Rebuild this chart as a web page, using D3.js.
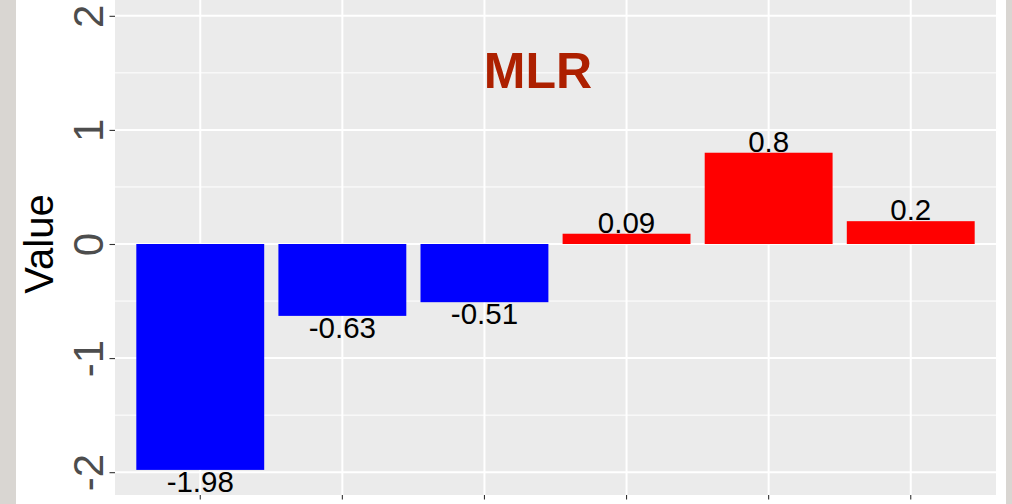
<!DOCTYPE html>
<html>
<head>
<meta charset="utf-8">
<script src="https://cdn.jsdelivr.net/npm/d3@7"></script>
<style>
  html, body { margin: 0; padding: 0; background: #ffffff; }
  svg { display: block; font-family: "Liberation Sans", Arial, sans-serif; }
</style>
</head>
<body>
<svg id="chart" width="1012" height="504"></svg>
<script>
// Coefficients shown per term
const categories = ["T1", "T2", "T3", "T4", "T5", "T6"];
const values = [-1.98, -0.63, -0.51, 0.09, 0.8, 0.2];
const yTicks = [-2, -1, 0, 1, 2];
const yTickLabels = ["-2", "-1", "0", "1", "2"];
const yMinorTicks = [-1.5, -0.5, 0.5, 1.5];
const chartTitle = "MLR";
const yTitle = "Value";

const W = 1012, H = 504;
const panel = { left: 115, right: 996, top: -7, bottom: 495 };

const svg = d3.select("#chart");

// outer frame strips and white plot background
svg.append("rect").attr("x", 0).attr("y", 0).attr("width", W).attr("height", H).attr("fill", "#d9d6d2");
svg.append("rect").attr("x", 16).attr("y", 0).attr("width", 990).attr("height", H).attr("fill", "#ffffff");

const x = d3.scaleBand()
  .domain(categories)
  .range([panel.left, panel.right])
  .paddingInner(0.1)
  .paddingOuter(0.15);

const y = d3.scaleLinear()
  .domain([-2.2, 2.2])
  .range([panel.bottom, panel.top]);

// panel background
svg.append("rect")
  .attr("x", panel.left).attr("y", 0)
  .attr("width", panel.right - panel.left)
  .attr("height", panel.bottom)
  .attr("fill", "#ebebeb");

const grid = svg.append("g");
grid.selectAll("line.minor")
  .data(yMinorTicks)
  .join("line")
  .attr("class", "minor")
  .attr("x1", panel.left).attr("x2", panel.right)
  .attr("y1", d => y(d)).attr("y2", d => y(d))
  .attr("stroke", "#ffffff").attr("stroke-width", 1);
grid.selectAll("line.major")
  .data(yTicks)
  .join("line")
  .attr("class", "major")
  .attr("x1", panel.left).attr("x2", panel.right)
  .attr("y1", d => y(d)).attr("y2", d => y(d))
  .attr("stroke", "#ffffff").attr("stroke-width", 2);
grid.selectAll("line.vmajor")
  .data(categories)
  .join("line")
  .attr("class", "vmajor")
  .attr("x1", d => x(d) + x.bandwidth() / 2).attr("x2", d => x(d) + x.bandwidth() / 2)
  .attr("y1", 0).attr("y2", panel.bottom)
  .attr("stroke", "#ffffff").attr("stroke-width", 2);

// bars
svg.append("g")
  .selectAll("rect")
  .data(values)
  .join("rect")
  .attr("x", (d, i) => x(categories[i]))
  .attr("width", x.bandwidth())
  .attr("y", d => y(Math.max(0, d)))
  .attr("height", d => Math.abs(y(d) - y(0)))
  .attr("fill", d => d < 0 ? "#0000ff" : "#ff0000");

// value labels
svg.append("g")
  .selectAll("text")
  .data(values)
  .join("text")
  .attr("x", (d, i) => x(categories[i]) + x.bandwidth() / 2)
  .attr("y", d => d < 0 ? y(d) + 22 : y(d) - 1)
  .attr("text-anchor", "middle")
  .attr("font-size", 29.5)
  .attr("fill", "#000000")
  .text(d => String(d));

// y axis
const yAxis = svg.append("g")
  .attr("transform", `translate(${panel.left},0)`)
  .call(d3.axisLeft(y)
    .tickValues(yTicks)
    .tickSize(5.5)
    .tickPadding(0)
    .tickFormat((d, i) => yTickLabels[i]));
yAxis.select(".domain").remove();
yAxis.selectAll(".tick line").attr("stroke", "#333333").attr("stroke-width", 1.1);
yAxis.selectAll(".tick text")
  .attr("x", null).attr("dy", null)
  .attr("transform", "translate(-12,0) rotate(-90)")
  .attr("text-anchor", "middle")
  .attr("font-size", 42)
  .attr("font-family", "Liberation Sans, Arial, sans-serif")
  .attr("fill", "#4d4d4d");

// x axis ticks
const xAxis = svg.append("g")
  .attr("transform", `translate(0,${panel.bottom})`)
  .call(d3.axisBottom(x).tickSize(4.5).tickFormat(() => ""));
xAxis.select(".domain").remove();
xAxis.selectAll(".tick line").attr("stroke", "#333333").attr("stroke-width", 1.1);

// axis title
svg.append("text")
  .attr("transform", `translate(53,${y(0)}) rotate(-90)`)
  .attr("text-anchor", "middle")
  .attr("font-size", 40)
  .attr("fill", "#000000")
  .text(yTitle);

// chart title
svg.append("text")
  .attr("x", 538)
  .attr("y", 88)
  .attr("text-anchor", "middle")
  .attr("font-size", 50)
  .attr("font-weight", "bold")
  .attr("fill", "#ad2000")
  .text(chartTitle);
</script>
</body>
</html>
